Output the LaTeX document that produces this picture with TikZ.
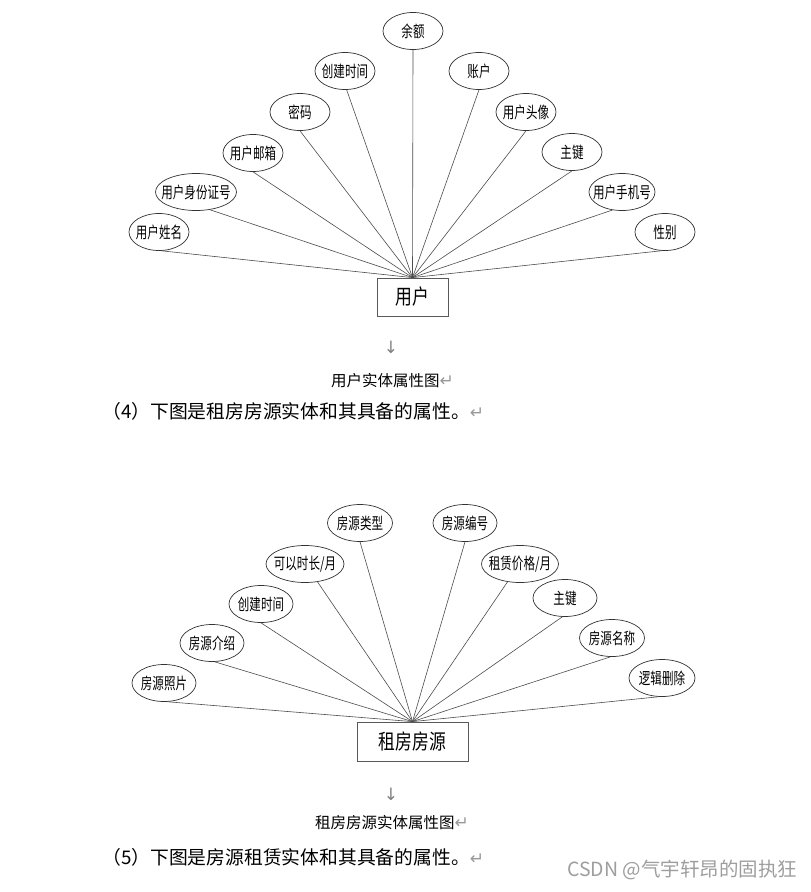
\documentclass[tikz,border=0pt]{standalone}
\usepackage{fontspec}
\setmainfont{Noto Sans CJK SC}
\newfontfamily\cjkfont{Noto Sans CJK SC}
\newfontfamily\cjknarrow[FakeStretch=0.72]{Noto Sans CJK SC}
\newfontfamily\cjkbox[FakeStretch=0.8]{Noto Sans CJK SC}
\newfontfamily\djvfont{DejaVu Sans}
\usetikzlibrary{shapes.geometric}
\newcommand{\retsym}{{\djvfont\fontsize{17}{18}\selectfont\color{black!40}↵}}
\tikzset{
  attr/.style={ellipse, draw=black!80, line width=0.7pt, minimum width=60pt, minimum height=37pt,
    inner xsep=-20pt, inner ysep=0pt, font=\cjknarrow\fontsize{16}{18}\selectfont},
  entity/.style={rectangle, draw=black!65, line width=0.8pt, inner sep=0pt,
    font=\cjkbox\fontsize{21}{23}\selectfont},
  link/.style={draw=black!70, line width=0.6pt},
  caption/.style={anchor=west, inner sep=0pt, font=\cjkfont\fontsize{15.5}{18}\selectfont},
  para/.style={anchor=west, inner sep=0pt, font=\cjkfont\fontsize{18.8}{21}\selectfont},
  downarrow/.style={inner sep=0pt, text=black!50, font=\djvfont\fontsize{17}{19}\selectfont},
  watermark/.style={anchor=west, inner sep=0pt, text=black!38, font=\cjkfont\fontsize{19.5}{21}\selectfont}
}
\begin{document}
\begin{tikzpicture}[x=1pt,y=-1pt]
\useasboundingbox (0,0) rectangle (811,892);
\fill[white] (0,0) rectangle (811,892);

% ---------- user entity ----------
\node[entity, minimum width=71pt, minimum height=38pt] (u) at (412.5,297) {用户};
\node[attr] (a1) at (159,232) {用户姓名};
\node[attr, minimum width=81pt] (a2) at (196,192) {用户身份证号};
\node[attr] (a3) at (253,153) {用户邮箱};
\node[attr] (a4) at (300,112) {密码};
\node[attr] (a5) at (345,71) {创建时间};
\node[attr] (a6) at (413,31) {余额};
\node[attr] (a7) at (479,71) {账户};
\node[attr] (a8) at (526,112) {用户头像};
\node[attr] (a9) at (572,152) {主键};
\node[attr, minimum width=66pt] (a10) at (622,192) {用户手机号};
\node[attr] (a11) at (665,232) {性别};

\draw[link] (a1.-83) -- (u.north);
\draw[link] (a2.-52) -- (u.north);
\draw[link] (a3.south) -- (u.north);
\draw[link] (a4.south) -- (u.north);
\draw[link] (a5.-85) -- (u.north);
\draw[link] (a6.south) -- (u.north);
\draw[link] (a7.south) -- (u.north);
\draw[link] (a8.south) -- (u.north);
\draw[link] (a9.south) -- (u.north);
\draw[link] (a10.-118) -- (u.north);
\draw[link] (a11.-100) -- (u.north);

\node[downarrow] (d1) at (391,347) {↓};
\node[caption] (c1) at (331,381) {用户实体属性图\retsym};
\node[para] (p1) at (102,411) {（4）下图是租房房源实体和其具备的属性。\retsym};

% ---------- rental housing entity ----------
\node[entity, minimum width=111pt, minimum height=39pt] (r) at (412.5,741.5) {租房房源};
\node[attr, minimum width=64pt] (b1) at (164,683) {房源照片};
\node[attr, minimum width=64pt] (b2) at (212,643) {房源介绍};
\node[attr, minimum width=64pt] (b3) at (261,604) {创建时间};
\node[attr, minimum width=78pt] (b4) at (305,564) {可以时长/月};
\node[attr, minimum width=65pt] (b5) at (360,523) {房源类型};
\node[attr, minimum width=64pt] (b6) at (465,523) {房源编号};
\node[attr, minimum width=77pt] (b7) at (520,564) {租赁价格/月};
\node[attr, minimum width=64pt] (b8) at (565,598) {主键};
\node[attr, minimum width=65pt] (b9) at (612,638) {房源名称};
\node[attr, minimum width=66pt] (b10) at (662,678) {逻辑删除};

\draw[link] (b1.-80) -- (r.north);
\draw[link] (b2.-82) -- (r.north);
\draw[link] (b3.south) -- (r.north);
\draw[link] (b4.-55) -- (r.north);
\draw[link] (b5.south) -- (r.north);
\draw[link] (b6.south) -- (r.north);
\draw[link] (b7.-125) -- (r.north);
\draw[link] (b8.-98) -- (r.north);
\draw[link] (b9.-95) -- (r.north);
\draw[link] (b10.-100) -- (r.north);

\node[downarrow] (d2) at (391,794) {↓};
\node[caption] (c2) at (315,823) {租房房源实体属性图\retsym};
\node[para] (p2) at (102,857) {（5）下图是房源租赁实体和其具备的属性。\retsym};

\node[watermark] (w) at (567,870) {CSDN @气宇轩昂的固执狂};
\end{tikzpicture}
\end{document}
